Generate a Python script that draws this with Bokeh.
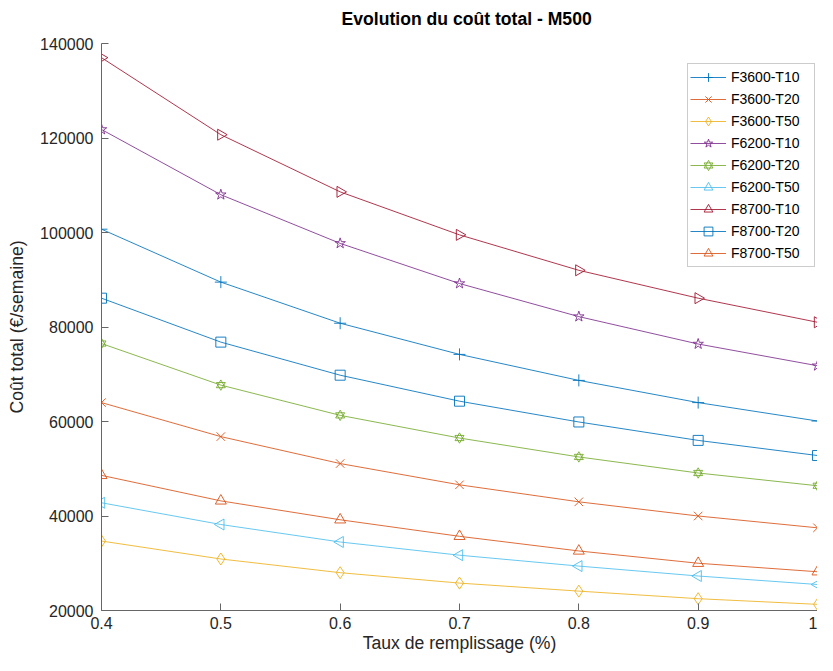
import math
from bokeh.plotting import figure
from bokeh.models import Legend, LegendItem, FixedTicker, Range1d, ColumnDataSource, Title
from bokeh.embed import file_html
from bokeh.resources import INLINE

# ---- data ----
x_vals = [0.4, 0.5, 0.6, 0.7, 0.8, 0.9, 1.0]
x_ticks = [0.4, 0.5, 0.6, 0.7, 0.8, 0.9, 1.0]
x_tick_labels = ["0.4", "0.5", "0.6", "0.7", "0.8", "0.9", "1"]
y_ticks = [20000, 40000, 60000, 80000, 100000, 120000, 140000]
y_tick_labels = ["20000", "40000", "60000", "80000", "100000", "120000", "140000"]

title_text = "Evolution du coût total - M500"
x_label = "Taux de remplissage (%)"
y_label = "Coût total (€/semaine)"

series_names = ["F3600-T10", "F3600-T20", "F3600-T50",
                "F6200-T10", "F6200-T20", "F6200-T50",
                "F8700-T10", "F8700-T20", "F8700-T50"]

f3600_t10 = [100700, 89500, 80800, 74200, 68700, 64000, 60100]
f3600_t20 = [64000, 56800, 51100, 46600, 43000, 40000, 37500]
f3600_t50 = [34700, 30900, 28000, 25800, 24100, 22500, 21300]
f6200_t10 = [121800, 108000, 97700, 89200, 82200, 76400, 71800]
f6200_t20 = [76500, 67700, 61300, 56500, 52500, 49100, 46400]
f6200_t50 = [42800, 38200, 34500, 31700, 29400, 27300, 25500]
f8700_t10 = [137000, 120700, 108600, 99500, 92000, 86100, 81000]
f8700_t20 = [86100, 76800, 69800, 64300, 59900, 56000, 52800]
f8700_t50 = [48600, 43200, 39200, 35700, 32600, 30000, 28200]

series_values = [f3600_t10, f3600_t20, f3600_t50,
                 f6200_t10, f6200_t20, f6200_t50,
                 f8700_t10, f8700_t20, f8700_t50]

colors = ["#0072BD", "#D95319", "#EDB120",
          "#7E2F8E", "#77AC30", "#4DBEEE",
          "#A2142F", "#0072BD", "#D95319"]

# (marker, angle, size) ; hexagram = two triangles
marker_specs = [
    [("cross", 0, 12)],
    [("x", 0, 12)],
    [("diamond", 0, 12)],
    [("star", 0, 11)],
    [("triangle", 0, 9), ("inverted_triangle", 0, 9)],
    [("triangle", math.pi / 2, 11)],
    [("triangle", -math.pi / 2, 11)],
    [("square", 0, 10)],
    [("triangle", 0, 11)],
]

FONT = "Liberation Sans"
AX = "#666666"
TXT = "#262626"

W, H = 817, 655
BL, BT, BB = 101, 43, 45
FRAME_BOTTOM = H - BB

p = figure(width=W, height=H, output_backend="svg", toolbar_location=None,
           x_range=Range1d(0.4, 1.0), y_range=Range1d(20000, 140000),
           min_border_left=BL, min_border_right=0, min_border_top=BT,
           min_border_bottom=BB, title=None)
p.outline_line_color = None
p.grid.visible = False
p.background_fill_color = "white"

# spacer (closest to frame) then the real title above it
p.add_layout(Title(text=" ", text_font_size="1px", standoff=5), "above")
p.add_layout(Title(text=title_text, align="left", offset=240, standoff=13,
                   text_font=FONT, text_font_size="17.6px",
                   text_font_style="bold", text_color="#000000"), "above")

for ax in (p.xaxis[0], p.yaxis[0]):
    ax.axis_line_color = AX
    ax.axis_line_width = 1
    ax.major_tick_line_color = AX
    ax.major_tick_in = 7
    ax.major_tick_out = 0
    ax.minor_tick_line_color = None
    ax.major_label_text_font = FONT
    ax.major_label_text_font_size = "16px"
    ax.major_label_text_color = TXT
    ax.axis_label_text_font = FONT
    ax.axis_label_text_font_size = "17.6px"
    ax.axis_label_text_font_style = "normal"
    ax.axis_label_text_color = TXT

p.xaxis.ticker = FixedTicker(ticks=x_ticks)
p.xaxis.major_label_overrides = {t: l for t, l in zip(x_ticks, x_tick_labels)}
p.xaxis.axis_label = x_label
p.xaxis.major_label_standoff = 6
p.xaxis.axis_label_standoff = 1

p.yaxis.ticker = FixedTicker(ticks=y_ticks)
p.yaxis.major_label_overrides = {t: l for t, l in zip(y_ticks, y_tick_labels)}
p.yaxis.axis_label = y_label
p.yaxis.major_label_standoff = 8
p.yaxis.axis_label_standoff = 10

items = []
for name, vals, col, specs in zip(series_names, series_values, colors, marker_specs):
    src = ColumnDataSource(dict(x=x_vals, y=vals))
    rs = [p.line("x", "y", source=src, line_color=col, line_width=1, line_alpha=0.85)]
    for mk, ang, sz in specs:
        rs.append(p.scatter("x", "y", source=src, marker=mk, angle=ang, size=sz,
                            fill_color=None, line_color=col, line_width=1, line_alpha=0.9))
    items.append(LegendItem(label=name, renderers=rs))

legend = Legend(items=items, location=(586, FRAME_BOTTOM - 267))
legend.border_line_color = "#999999"
legend.border_line_width = 1
legend.background_fill_color = "white"
legend.background_fill_alpha = 1
legend.label_text_font = FONT
legend.label_text_font_size = "14px"
legend.label_text_color = "#000000"
legend.glyph_width = 36
legend.glyph_height = 22
legend.label_height = 22
legend.spacing = 0
legend.padding = 2
legend.margin = 0
legend.label_standoff = 5
legend.label_width = 81
p.add_layout(legend)

open("out.html", "w").write(file_html(p, INLINE))
